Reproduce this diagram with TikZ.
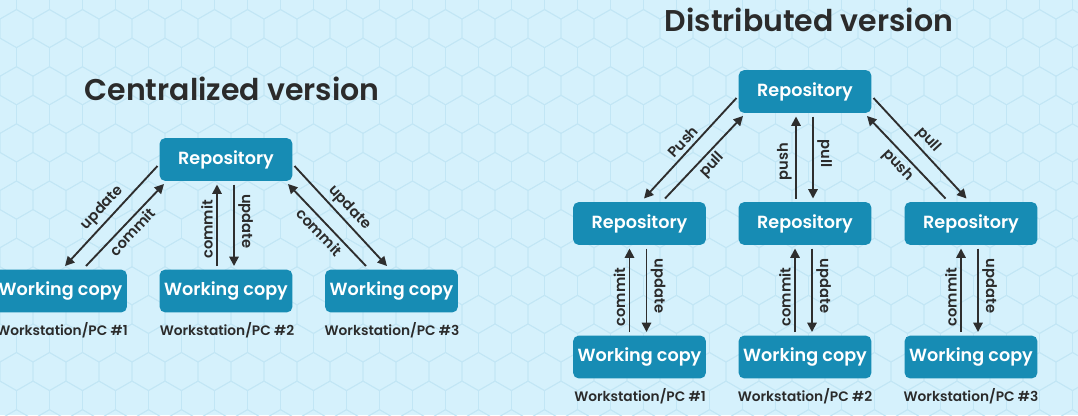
\documentclass[tikz,border=0pt]{standalone}
\usepackage{fontspec}
\setmainfont{Poppins}[UprightFont=* Medium, BoldFont=* SemiBold]
\usetikzlibrary{arrows.meta,calc}
\definecolor{bgc}{HTML}{D5F1FC}
\definecolor{hexc}{HTML}{C2E6F5}
\definecolor{boxc}{HTML}{178CB4}
\definecolor{txt}{HTML}{2B2B2B}
\definecolor{arrc}{HTML}{2E2E2E}
\tikzset{
  box/.style={fill=boxc, rounded corners=4pt, minimum width=99.5pt, minimum height=32pt, text=white, font=\bfseries\fontsize{13.2}{15}\selectfont, inner sep=0pt},
  ws/.style={text=txt, font=\bfseries\fontsize{10.3}{12}\selectfont},
  arr/.style={draw=arrc, line width=1.4pt, -{Triangle[length=7pt,width=7pt]}},
  lbl/.style={text=txt, font=\bfseries\fontsize{11}{12}\selectfont, inner sep=2.5pt},
  ttl/.style={text=txt, font=\bfseries\fontsize{22.5}{26}\selectfont},
}
\begin{document}
\begin{tikzpicture}[x=0.75pt,y=-0.75pt]
\useasboundingbox (0,0) rectangle (1078,415);
\begin{scope}
\clip (0,0) rectangle (1078,415);
\fill[bgc] (0,0) rectangle (1078,415);
\foreach \j in {0,...,15} {
  \foreach \i in {-1,...,33} {
    \pgfmathsetmacro\cx{\i*33+mod(\j,2)*16.5}
    \pgfmathsetmacro\cy{\j*28.58}
    \draw[hexc, line width=0.6pt] (\cx,\cy) +(30:19.05) -- +(90:19.05) -- +(150:19.05) -- +(210:19.05) -- +(270:19.05) -- +(330:19.05) -- cycle;
  }
}
\end{scope}

% Centralized
\node[ttl] (tc) at (232,89) {Centralized version};
\node[box] (rc) at (226,159.5) {Repository};
\node[box] (w1) at (60.5,291) {Working copy};
\node[box] (w2) at (226,291) {Working copy};
\node[box] (w3) at (391.5,291) {Working copy};
\node[ws] (l1) at (62,330) {Workstation/PC \#1};
\node[ws] (l2) at (227,330) {Workstation/PC \#2};
\node[ws] (l3) at (392,330) {Workstation/PC \#3};

\draw[arr] ($(rc)+(-68.5,6.5)$) -- node[lbl,sloped,above]{update} ($(w1)+(4.5,-25)$);
\draw[arr] ($(w1)+(25.5,-25)$) -- node[lbl,sloped,below]{commit} ($(rc)+(-62,24.5)$);
\draw[arr] ($(rc)+(68.5,6.5)$) -- node[lbl,sloped,above]{update} ($(w3)+(-4.5,-25)$);
\draw[arr] ($(w3)+(-25.5,-25)$) -- node[lbl,sloped,below]{commit} ($(rc)+(62,24.5)$);
\draw[arr] ($(w2)+(-9,-25)$) -- node[lbl,rotate=90,anchor=south,pos=0.45]{commit} ($(rc)+(-9,25)$);
\draw[arr] ($(rc)+(8,25)$) -- node[lbl,rotate=-90,anchor=south,pos=0.45]{update} ($(w2)+(8,-25)$);

% Distributed
\node[ttl] (td) at (809,20) {Distributed version};
\node[box] (rd) at (805,91.5) {Repository};
\node[box] (r1) at (639.5,223.5) {Repository};
\node[box] (r2) at (805,223.5) {Repository};
\node[box] (r3) at (971,223.5) {Repository};
\node[box] (d1) at (639.5,357) {Working copy};
\node[box] (d2) at (805,357) {Working copy};
\node[box] (d3) at (971,357) {Working copy};
\node[ws] (m1) at (640,396) {Workstation/PC \#1};
\node[ws] (m2) at (805,396) {Workstation/PC \#2};
\node[ws] (m3) at (971,396) {Workstation/PC \#3};

\draw[arr] ($(rd)+(-68.5,6.5)$) -- node[lbl,sloped,above]{Push} ($(r1)+(4.5,-25)$);
\draw[arr] ($(r1)+(25.5,-25)$) -- node[lbl,sloped,below]{pull} ($(rd)+(-62,24.5)$);
\draw[arr] ($(rd)+(68.5,6.5)$) -- node[lbl,sloped,above]{pull} ($(r3)+(-4.5,-25)$);
\draw[arr] ($(r3)+(-25.5,-25)$) -- node[lbl,sloped,below]{push} ($(rd)+(62,24.5)$);
\draw[arr] ($(r2)+(-9,-25)$) -- node[lbl,rotate=90,anchor=south,pos=0.45]{push} ($(rd)+(-9,25)$);
\draw[arr] ($(rd)+(8,25)$) -- node[lbl,rotate=-90,anchor=south,pos=0.45]{pull} ($(r2)+(8,-25)$);

\foreach \r/\w in {r1/d1, r2/d2, r3/d3} {
  \draw[arr] ($(\w)+(-10,-25)$) -- node[lbl,rotate=90,anchor=south,pos=0.42]{commit} ($(\r)+(-10,25)$);
  \draw[arr] ($(\r)+(7,25)$) -- node[lbl,rotate=-90,anchor=south,pos=0.45]{update} ($(\w)+(7,-25)$);
}
\end{tikzpicture}
\end{document}
